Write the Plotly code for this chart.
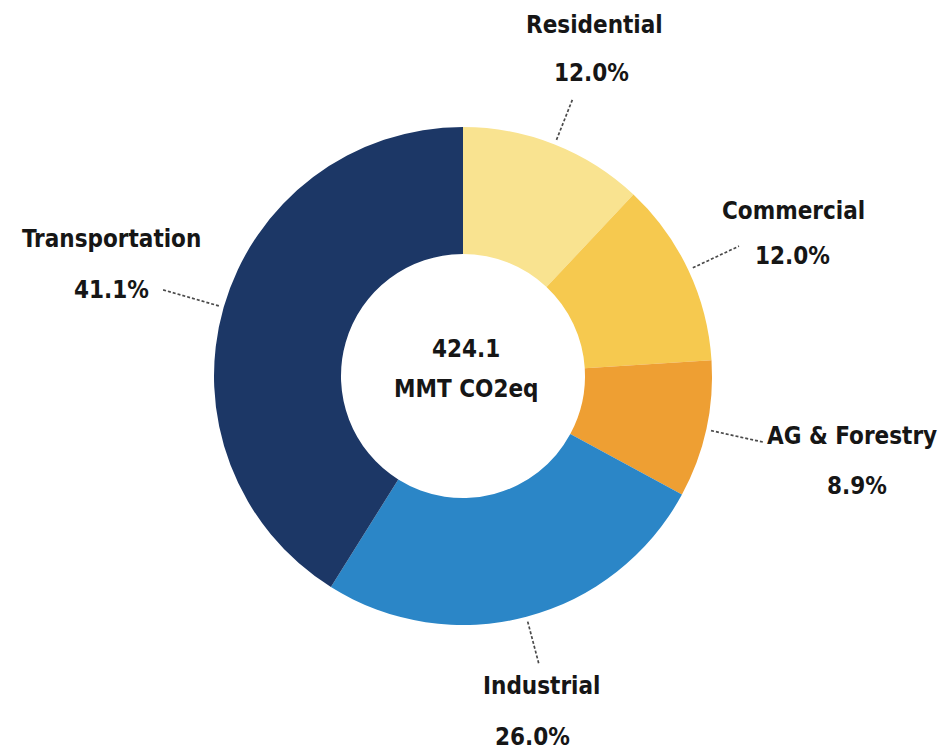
import math
import plotly.graph_objects as go

# ---- data ----
sectors = ["Residential", "Commercial", "AG & Forestry", "Industrial", "Transportation"]
shares = [12.0, 12.0, 8.9, 26.0, 41.1]
colors = ["#F9E390", "#F6C94F", "#EE9F33", "#2B86C7", "#1C3766"]
center_lines = ["424.1", "MMT CO2eq"]

# ---- styling / layout (pixels) ----
W, H = 948, 756
PAGE_OFF = 8                        # browser body margin
CX, CY, R = 463, 376, 249          # pie centre & radius in px (as seen on page)
leader_start = 5                   # gap beyond rim where leader starts
leader_len = [48, 56, 58, 50, 63]  # length of dashed leader beyond the rim
# label centre offset from leader end (name line, pct line), px
name_off = [(22, -75), (55, -35), (89, -6), (2, 21), (-52, -51)]
pct_off = [(19, -27), (54, 10), (94, 44), (-7, 72), (-52, 0)]
center_y = [349, 389]
FONT = "DejaVu Sans Condensed"
FS = 24
TXT = "#161616"

def px2paper(x, y):
    return (x - PAGE_OFF) / W, 1 - (y - PAGE_OFF) / H

x0, y0 = px2paper(CX - R, CY + R)
x1, y1 = px2paper(CX + R, CY - R)

fig = go.Figure(go.Pie(
    labels=sectors, values=shares, sort=False, direction="clockwise", rotation=0,
    hole=0.49, marker=dict(colors=colors, line=dict(width=0)),
    textinfo="none", hoverinfo="label+percent", showlegend=False,
    domain=dict(x=[x0, x1], y=[y0, y1]),
))

annotations = []
shapes = []
total = sum(shares)
cum = 0.0
for i, (name, v) in enumerate(zip(sectors, shares)):
    mid = (cum + v / 2) / total * 2 * math.pi
    cum += v
    rs, re = R + leader_start, R + leader_len[i]
    sx, sy = CX + rs * math.sin(mid), CY - rs * math.cos(mid)
    ex, ey = CX + re * math.sin(mid), CY - re * math.cos(mid)
    a, b = px2paper(sx, sy)
    c, d = px2paper(ex, ey)
    shapes.append(dict(type="line", xref="paper", yref="paper", x0=a, y0=b, x1=c, y1=d,
                       line=dict(color="#4a4a4a", width=1.7, dash="3px,2px")))
    nx, ny = px2paper(ex + name_off[i][0], ey + name_off[i][1])
    annotations.append(dict(x=nx, y=ny, xref="paper", yref="paper", text=f"<b>{name}</b>",
                            showarrow=False, xanchor="center", yanchor="middle",
                            font=dict(family=FONT, size=FS, color=TXT)))
    qx, qy = px2paper(ex + pct_off[i][0], ey + pct_off[i][1])
    annotations.append(dict(x=qx, y=qy, xref="paper", yref="paper", text=f"<b>{v:.1f}%</b>",
                            showarrow=False, xanchor="center", yanchor="middle",
                            font=dict(family=FONT, size=FS, color=TXT)))

for t, yy in zip(center_lines, center_y):
    cx, cy = px2paper(CX + 3, yy)
    annotations.append(dict(x=cx, y=cy, xref="paper", yref="paper", text=f"<b>{t}</b>",
                            showarrow=False, xanchor="center", yanchor="middle",
                            font=dict(family=FONT, size=FS, color=TXT)))

fig.update_layout(
    width=W, height=H, margin=dict(l=0, r=0, t=0, b=0),
    paper_bgcolor="white", plot_bgcolor="white",
    annotations=annotations, shapes=shapes,
)
fig.write_html("out.html")
